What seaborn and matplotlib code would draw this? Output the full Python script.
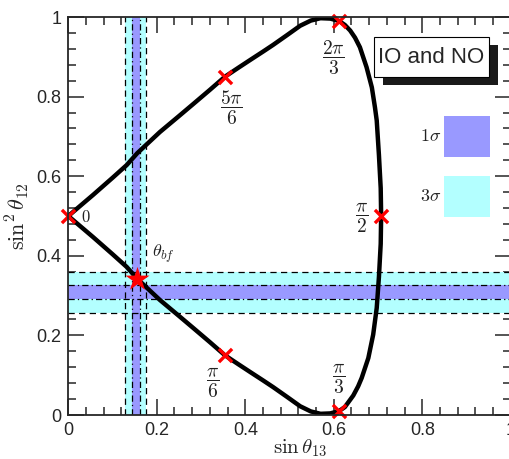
import matplotlib
matplotlib.use("Agg")
import matplotlib.pyplot as plt
from matplotlib.patches import Rectangle
import seaborn as sns
import pandas as pd

# ---- data ----
curve_x = [0.000, 0.056, 0.100, 0.132, 0.156, 0.207, 0.250, 0.283, 0.320, 0.354,
           0.385, 0.411, 0.440, 0.463, 0.495, 0.524, 0.548, 0.570, 0.592, 0.612,
           0.625, 0.644, 0.655, 0.663, 0.678, 0.689, 0.697, 0.702, 0.706, 0.707,
           0.706, 0.702, 0.697, 0.693, 0.686, 0.674, 0.659, 0.648, 0.637, 0.625,
           0.612, 0.592, 0.570, 0.548, 0.524, 0.495, 0.463, 0.440, 0.411, 0.385,
           0.354, 0.320, 0.283, 0.250, 0.207, 0.156, 0.132, 0.100, 0.056, 0.000]
curve_y = [0.500, 0.447, 0.404, 0.372, 0.342, 0.289, 0.249, 0.218, 0.183, 0.150,
           0.127, 0.108, 0.087, 0.070, 0.045, 0.022, 0.009, 0.003, 0.004, 0.010,
           0.020, 0.049, 0.072, 0.093, 0.143, 0.202, 0.269, 0.347, 0.430, 0.500,
           0.570, 0.653, 0.740, 0.773, 0.823, 0.874, 0.924, 0.948, 0.966, 0.980,
           0.990, 0.996, 0.997, 0.991, 0.978, 0.955, 0.930, 0.913, 0.892, 0.873,
           0.850, 0.817, 0.782, 0.751, 0.711, 0.658, 0.628, 0.596, 0.553, 0.500]

mark_x = [0.000, 0.354, 0.612, 0.707, 0.612, 0.354]
mark_y = [0.500, 0.150, 0.010, 0.500, 0.990, 0.850]
mark_labels = [r"$0$", r"$\dfrac{\pi}{6}$", r"$\dfrac{\pi}{3}$", r"$\dfrac{\pi}{2}$",
               r"$\dfrac{2\pi}{3}$", r"$\dfrac{5\pi}{6}$"]
label_x = [0.040, 0.327, 0.610, 0.663, 0.598, 0.368]
label_y = [0.498, 0.080, 0.090, 0.496, 0.898, 0.771]

bf_x = [0.156]
bf_y = [0.342]
bf_label = r"$\theta_{bf}$"

# sin(theta13) ranges
s13_1sig = [0.1446, 0.1620]
s13_3sig = [0.1280, 0.1750]
# sin^2(theta12) ranges
s12_1sig = [0.2907, 0.3266]
s12_3sig = [0.2570, 0.3600]

legend_title = "IO and NO"
legend_labels = [r"$1\sigma$", r"$3\sigma$"]

x_ticks = [0, 0.2, 0.4, 0.6, 0.8, 1]
x_ticklabels = ["0", "0.2", "0.4", "0.6", "0.8", "1"]
y_ticks = [0, 0.2, 0.4, 0.6, 0.8, 1]
y_ticklabels = ["0", "0.2", "0.4", "0.6", "0.8", "1"]

# ---- style ----
sns.set_style("ticks")
plt.rcParams["font.family"] = ["Liberation Sans", "DejaVu Sans"]
plt.rcParams["mathtext.fontset"] = "cm"

c1 = "#9999ff"
c3 = "#b3ffff"

fig = plt.figure(figsize=(5.10, 4.59), dpi=100)
ax = fig.add_axes([68.3 / 510, 1 - 415 / 459, 442.5 / 510, 398 / 459])
ax.set_xlim(0, 1)
ax.set_ylim(0, 1)

# bands
ax.axvspan(s13_3sig[0], s13_3sig[1], color=c3, lw=0, zorder=1)
ax.axhspan(s12_3sig[0], s12_3sig[1], color=c3, lw=0, zorder=1)
ax.axvspan(s13_1sig[0], s13_1sig[1], color=c1, lw=0, zorder=2)
ax.axhspan(s12_1sig[0], s12_1sig[1], color=c1, lw=0, zorder=2)
for v in s13_3sig:
    ax.axvline(v, color="black", lw=0.9, ls=(0, (5, 3.5)), zorder=3)
for v in s12_3sig:
    ax.axhline(v, color="black", lw=0.9, ls=(0, (5, 3.5)), zorder=3)
for v in s13_1sig:
    ax.axvline(v, color="black", lw=0.9, ls=(0, (5, 2.5, 1, 2.5)), zorder=3)
for v in s12_1sig:
    ax.axhline(v, color="black", lw=0.9, ls=(0, (5, 2.5, 1, 2.5)), zorder=3)

# curve
df = pd.DataFrame({"x": curve_x, "y": curve_y})
sns.lineplot(data=df, x="x", y="y", sort=False, estimator=None, color="black",
             lw=3.2, ax=ax, zorder=5)
ax.lines[-1].set_solid_capstyle("round")

# markers
mdf = pd.DataFrame({"x": mark_x, "y": mark_y})
sns.scatterplot(data=mdf, x="x", y="y", marker="x", color="red", s=90,
                linewidth=2.4, ax=ax, zorder=6, clip_on=False)
bdf = pd.DataFrame({"x": bf_x, "y": bf_y})
sns.scatterplot(data=bdf, x="x", y="y", marker="*", color="red", s=330,
                linewidth=0, ax=ax, zorder=7, clip_on=False)

for lx, ly, t in zip(label_x, label_y, mark_labels):
    fs = 12 if t == r"$0$" else 14
    ax.text(lx, ly, t, ha="center", va="center", fontsize=fs, color="#222222", zorder=8)
ax.text(0.215, 0.406, bf_label, ha="center", va="center", fontsize=13, color="#222222")

# legend-like box with shadow
ax.add_patch(Rectangle((0.711, 0.829), 0.260, 0.101, transform=ax.transAxes,
                       facecolor="#1a1a1a", edgecolor="none", zorder=9))
ax.add_patch(Rectangle((0.691, 0.849), 0.260, 0.101, transform=ax.transAxes,
                       facecolor="white", edgecolor="black", lw=0.8, zorder=10))
ax.text(0.821, 0.899, legend_title, transform=ax.transAxes, ha="center", va="center",
        fontsize=16, zorder=11)
ax.add_patch(Rectangle((0.849, 0.648), 0.104, 0.103, transform=ax.transAxes,
                       facecolor=c1, edgecolor="none", zorder=9))
ax.add_patch(Rectangle((0.849, 0.497), 0.104, 0.103, transform=ax.transAxes,
                       facecolor=c3, edgecolor="none", zorder=9))
ax.text(0.818, 0.700, legend_labels[0], transform=ax.transAxes, ha="center", va="center",
        fontsize=13, color="#222222")
ax.text(0.818, 0.549, legend_labels[1], transform=ax.transAxes, ha="center", va="center",
        fontsize=13, color="#222222")

# axes
ax.set_xticks(x_ticks)
ax.set_xticklabels(x_ticklabels)
ax.set_yticks(y_ticks)
ax.set_yticklabels(y_ticklabels)
ax.set_xticks([i * 0.04 for i in range(26)], minor=True)
ax.set_yticks([i * 0.04 for i in range(26)], minor=True)
ax.tick_params(which="both", direction="in", top=True, right=True, width=1.1,
               labelsize=13, pad=5)
ax.tick_params(which="major", length=11.5)
ax.tick_params(which="minor", length=6)
for sp in ax.spines.values():
    sp.set_linewidth(1.3)
    sp.set_zorder(12)

ax.set_xlabel(r"$\sin\theta_{13}$", fontsize=15)
ax.set_ylabel(r"$\sin^2\theta_{12}$", fontsize=16)
ax.xaxis.set_label_coords(0.524, -0.056)
ax.yaxis.set_label_coords(-0.085, 0.5)

fig.savefig("out.png", dpi=100)
